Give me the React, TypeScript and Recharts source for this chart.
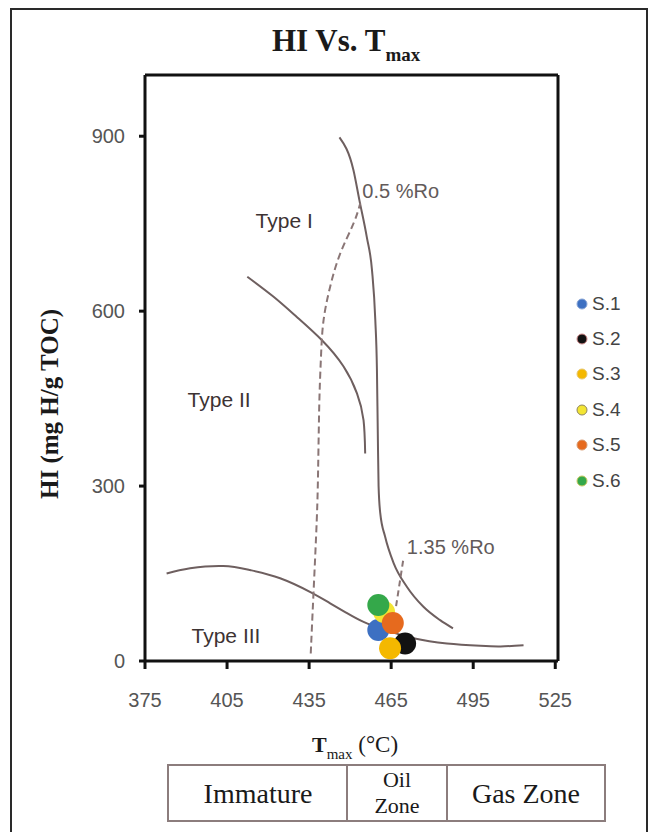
import React from "react";
import {
  ComposedChart,
  Line,
  Scatter,
  XAxis,
  YAxis,
  ReferenceLine,
  ReferenceDot,
  Legend,
} from "recharts";

// axis ticks
const X_TICKS = [375, 405, 435, 465, 495, 525];
const Y_TICKS = [0, 300, 600, 900];

// samples (Tmax °C, HI mg HC/g TOC)
const SAMPLE_NAMES = ["S.1", "S.2", "S.3", "S.4", "S.5", "S.6"];
const SAMPLE_TMAX = [460.3, 470.1, 464.6, 462.4, 465.6, 460.3];
const SAMPLE_HI = [53, 30, 22, 84, 65, 96];

// kerogen type boundary curves
const typeOneCurve = [
  { x: 446.1, y: 898 }, { x: 451.2, y: 842 }, { x: 453.4, y: 790 }, { x: 456.1, y: 727 },
  { x: 458.0, y: 670 }, { x: 459.2, y: 585 }, { x: 459.8, y: 499 }, { x: 460.1, y: 396 },
  { x: 460.4, y: 300 }, { x: 461.0, y: 254 }, { x: 462.8, y: 213 }, { x: 465.9, y: 168 },
  { x: 470.8, y: 127 }, { x: 476.8, y: 93 }, { x: 482.9, y: 70 }, { x: 487.6, y: 56 },
];
const typeTwoCurve = [
  { x: 412.4, y: 659 }, { x: 421.9, y: 625 }, { x: 430.5, y: 590 }, { x: 439.7, y: 550 },
  { x: 447.6, y: 505 }, { x: 452.5, y: 459 }, { x: 454.9, y: 413 }, { x: 455.5, y: 356 },
];
const typeThreeCurve = [
  { x: 382.9, y: 150 }, { x: 391.5, y: 159 }, { x: 403.6, y: 163 }, { x: 413.4, y: 156 },
  { x: 424.4, y: 142 }, { x: 436.0, y: 117 }, { x: 442.7, y: 99 }, { x: 448.5, y: 83 },
  { x: 454.9, y: 67 }, { x: 463.0, y: 53 }, { x: 473.2, y: 39 }, { x: 485.4, y: 30 },
  { x: 497.6, y: 26 }, { x: 505.0, y: 25 }, { x: 513.4, y: 27 },
];
// vitrinite reflectance iso-lines
const roLow = [
  { x: 435.6, y: 13 }, { x: 436.6, y: 116 }, { x: 437.8, y: 242 }, { x: 438.3, y: 330 },
  { x: 438.6, y: 413 }, { x: 438.9, y: 470 }, { x: 439.4, y: 528 }, { x: 440.3, y: 585 },
  { x: 442.7, y: 642 }, { x: 446.4, y: 699 }, { x: 451.2, y: 750 }, { x: 453.7, y: 785 },
];
const roHigh = [
  { x: 466.8, y: 94 }, { x: 469.5, y: 176 },
];

// in-plot annotations
const ANNOTATIONS = [
  { text: "Type I", x: 425.9, y: 755, kind: "type" },
  { text: "Type II", x: 402.1, y: 449, kind: "type" },
  { text: "Type III", x: 404.6, y: 44, kind: "type" },
  { text: "0.5 %Ro", x: 468.5, y: 807, kind: "ro" },
  { text: "1.35 %Ro", x: 486.8, y: 196, kind: "ro" },
];

const COLORS = ["#3d70c2", "#121212", "#f4b800", "#f3e533", "#e66a1e", "#34a84a"];
const LEGEND_STROKES = ["#8aa6d6", "#d08a8a", "#e8c870", "#8e8560", "#d89a70", "#c8c860"];
const DRAW_ORDER = [0, 1, 3, 5, 2, 4];

const SANS = "'Liberation Sans', Arial, sans-serif";
const SERIF = "'Liberation Serif', 'Times New Roman', serif";
const CURVE = "#6e5f5f";

const renderLegend = () => (
  <div style={{ display: "flex", flexDirection: "column" }}>
    {SAMPLE_NAMES.map((name, i) => (
      <div key={name} style={{ height: 35.4, display: "flex", alignItems: "center" }}>
        <svg width={12} height={12}>
          <circle cx={6} cy={6} r={5} fill={COLORS[i]} stroke={LEGEND_STROKES[i]} strokeWidth={1} />
        </svg>
        <span style={{ marginLeft: 4, fontSize: 19, fontFamily: SANS, color: "#444" }}>{name}</span>
      </div>
    ))}
  </div>
);

export default function App() {
  return (
    <div style={{ position: "absolute", left: 0, top: 0, width: 658, height: 832, background: "#fff", overflow: "hidden" }}>
      <div
        style={{
          position: "absolute",
          left: 10,
          top: 8,
          width: 638,
          height: 824,
          boxSizing: "border-box",
          border: "2px solid #2a2a2a",
          borderBottom: "none",
        }}
      />
      <div style={{ position: "absolute", left: 0, top: 0 }}>
        <ComposedChart width={658} height={832} margin={{ top: 75, right: 100, bottom: 111, left: 85 }}>
          <XAxis
            type="number"
            dataKey="x"
            domain={[375, 526]}
            ticks={X_TICKS}
            allowDataOverflow
            height={60}
            tickSize={8}
            tickMargin={24}
            axisLine={{ stroke: "#111", strokeWidth: 3 }}
            tickLine={{ stroke: "#111", strokeWidth: 3 }}
            tick={{ fill: "#555", fontSize: 20, fontFamily: SANS }}
          />
          <YAxis
            type="number"
            dataKey="y"
            domain={[0, 1005]}
            ticks={Y_TICKS}
            allowDataOverflow
            width={60}
            tickSize={6}
            tickMargin={14}
            axisLine={{ stroke: "#111", strokeWidth: 3 }}
            tickLine={{ stroke: "#111", strokeWidth: 3 }}
            tick={{ fill: "#555", fontSize: 20, fontFamily: SANS }}
          />
          <ReferenceLine y={1005} stroke="#111" strokeWidth={3} />
          <ReferenceLine x={526} stroke="#111" strokeWidth={3} />

          <Line data={typeOneCurve} dataKey="y" type="monotoneX" stroke={CURVE} strokeWidth={2} dot={false} activeDot={false} legendType="none" isAnimationActive={false} />
          <Line data={typeTwoCurve} dataKey="y" type="natural" stroke={CURVE} strokeWidth={2} dot={false} activeDot={false} legendType="none" isAnimationActive={false} />
          <Line data={typeThreeCurve} dataKey="y" type="natural" stroke={CURVE} strokeWidth={2} dot={false} activeDot={false} legendType="none" isAnimationActive={false} />
          <Line data={roLow} dataKey="y" type="natural" stroke="#8a7676" strokeWidth={2} strokeDasharray="7 4" dot={false} activeDot={false} legendType="none" isAnimationActive={false} />
          <Line data={roHigh} dataKey="y" type="linear" stroke="#8a7676" strokeWidth={2} strokeDasharray="6 4" dot={false} activeDot={false} legendType="none" isAnimationActive={false} />

          {ANNOTATIONS.map((a) => (
            <ReferenceDot
              key={a.text}
              x={a.x}
              y={a.y}
              r={0}
              fill="none"
              stroke="none"
              label={{
                value: a.text,
                position: "center",
                fill: a.kind === "type" ? "#3d3333" : "#625a5a",
                fontSize: a.kind === "type" ? 21 : 20,
                fontFamily: SANS,
              }}
            />
          ))}

          {DRAW_ORDER.map((i) => (
            <Scatter
              key={SAMPLE_NAMES[i]}
              name={SAMPLE_NAMES[i]}
              data={[{ x: SAMPLE_TMAX[i], y: SAMPLE_HI[i] }]}
              fill={COLORS[i]}
              shape={(p: any) => <circle cx={p.cx} cy={p.cy} r={11} fill={COLORS[i]} />}
              isAnimationActive={false}
            />
          ))}

          <Legend
            layout="vertical"
            align="center"
            verticalAlign="middle"
            wrapperStyle={{ left: 576, top: 286, width: 60 }}
            content={renderLegend}
          />
        </ComposedChart>
      </div>

      <svg width={658} height={832} style={{ position: "absolute", left: 0, top: 0, pointerEvents: "none" }}>
        {/* title */}
        <text x={272} y={51} fontFamily={SERIF} fontWeight="bold" fontSize={31} fill="#1a1a1a">
          HI Vs. T
          <tspan fontSize={19} dy={10}>max</tspan>
        </text>
        {/* y title */}
        <text
          transform="translate(58,404) rotate(-90)"
          textAnchor="middle"
          fontFamily={SERIF}
          fontWeight="bold"
          fontSize={25}
          fill="#1a1a1a"
        >
          HI (mg H/g TOC)
        </text>
        {/* x title */}
        <text x={312} y={752} fontFamily={SERIF} fill="#1a1a1a">
          <tspan fontSize={22} fontWeight="bold">T</tspan>
          <tspan fontSize={15} dy={7}>max</tspan>
          <tspan fontSize={23} dy={-7}> (°C)</tspan>
        </text>
        {/* maturity table */}
        <rect x={168} y={765} width={437} height={56} fill="none" stroke="#8c7d7d" strokeWidth={2} />
        <line x1={347} y1={765} x2={347} y2={821} stroke="#8c7d7d" strokeWidth={2} />
        <line x1={447} y1={765} x2={447} y2={821} stroke="#8c7d7d" strokeWidth={2} />
        <text x={258} y={803} textAnchor="middle" fontFamily={SERIF} fontSize={28} fill="#1a1a1a">Immature</text>
        <text x={397} y={787} textAnchor="middle" fontFamily={SERIF} fontSize={22} fill="#1a1a1a">Oil</text>
        <text x={397} y={813} textAnchor="middle" fontFamily={SERIF} fontSize={22} fill="#1a1a1a">Zone</text>
        <text x={526} y={803} textAnchor="middle" fontFamily={SERIF} fontSize={28} fill="#1a1a1a">Gas Zone</text>
      </svg>
    </div>
  );
}
